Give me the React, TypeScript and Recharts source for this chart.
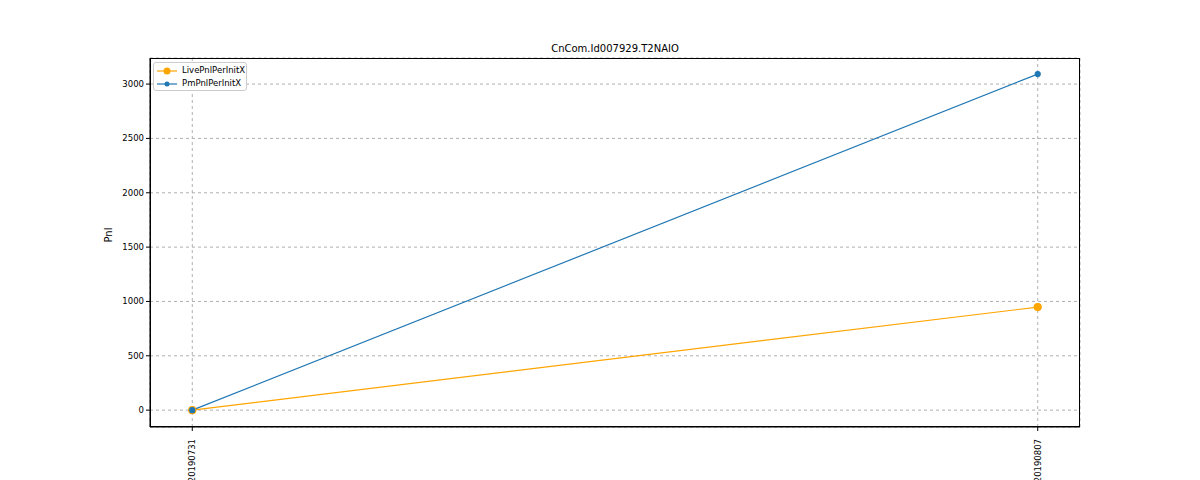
import { LineChart, Line, XAxis, YAxis, CartesianGrid } from "recharts";

const dates = ["20190731", "20190807"];
const livePnl = [0, 948];
const pmPnl = [0, 3092];
const yTicks = [0, 500, 1000, 1500, 2000, 2500, 3000];

const data = dates.map((d, i) => ({ x: i, live: livePnl[i], pm: pmPnl[i] }));

const font = "DejaVu Sans, sans-serif";

const XTick = (props: any) => {
  const { x, y, payload } = props;
  return (
    <text
      x={x}
      y={y + 6}
      transform={`rotate(-90 ${x} ${y + 6})`}
      textAnchor="end"
      dominantBaseline="central"
      fontSize={8.5}
      fill="#000"
      fontFamily={font}
    >
      {dates[payload.value]}
    </text>
  );
};

export default function App() {
  return (
    <div style={{ position: "absolute", left: 0, top: 0, width: 1200, height: 480, background: "#fff", fontFamily: font }}>
      <div style={{ position: "absolute", left: 0, width: 1230, top: 43, textAlign: "center", fontSize: 10 }}>
        CnCom.Id007929.T2NAIO
      </div>
      <LineChart width={1200} height={480} data={data} margin={{ top: 58, right: 120, bottom: 0, left: 100 }}>
        <CartesianGrid stroke="#b0b0b0" strokeDasharray="3 3" />
        <XAxis
          dataKey="x"
          type="number"
          domain={[-0.05, 1.05]}
          ticks={[0, 1]}
          tick={<XTick />}
          tickSize={4}
          stroke="#000"
          height={53}
          interval={0}
        />
        <YAxis
          type="number"
          domain={[-155, 3240]}
          ticks={yTicks}
          width={50}
          tickSize={4}
          stroke="#000"
          tick={{ fontSize: 8.5, fill: "#000", fontFamily: font }}
          label={{ value: "Pnl", angle: -90, position: "insideLeft", offset: 8, style: { fontSize: 10, fill: "#000" } }}
        />
        <Line dataKey="live" stroke="#ffa500" strokeWidth={1.2} isAnimationActive={false}
          dot={{ r: 3.5, fill: "#ffa500", stroke: "#ffa500" }} />
        <Line dataKey="pm" stroke="#1f77b4" strokeWidth={1.2} isAnimationActive={false}
          dot={{ r: 2.5, fill: "#1f77b4", stroke: "#1f77b4" }} />
      </LineChart>
      <div style={{ position: "absolute", left: 150, top: 58, width: 930, height: 369, border: "1px solid #000", boxSizing: "border-box", pointerEvents: "none" }} />
      <div style={{ position: "absolute", left: 153, top: 62, width: 94, height: 29, border: "1px solid #ccc", borderRadius: 3, background: "#fff", fontSize: 8.5, lineHeight: "13px", padding: "1px 0" , boxSizing: "border-box"}}>
        {[["LivePnlPerInitX", "#ffa500", 7], ["PmPnlPerInitX", "#1f77b4", 5]].map(([name, c, s]: any) => (
          <div key={name} style={{ display: "flex", alignItems: "center", paddingLeft: 3 }}>
            <svg width={20} height={10}>
              <line x1={0} y1={5} x2={20} y2={5} stroke={c} strokeWidth={1.2} />
              <circle cx={10} cy={5} r={s / 2} fill={c} />
            </svg>
            <span style={{ marginLeft: 5 }}>{name}</span>
          </div>
        ))}
      </div>
    </div>
  );
}
